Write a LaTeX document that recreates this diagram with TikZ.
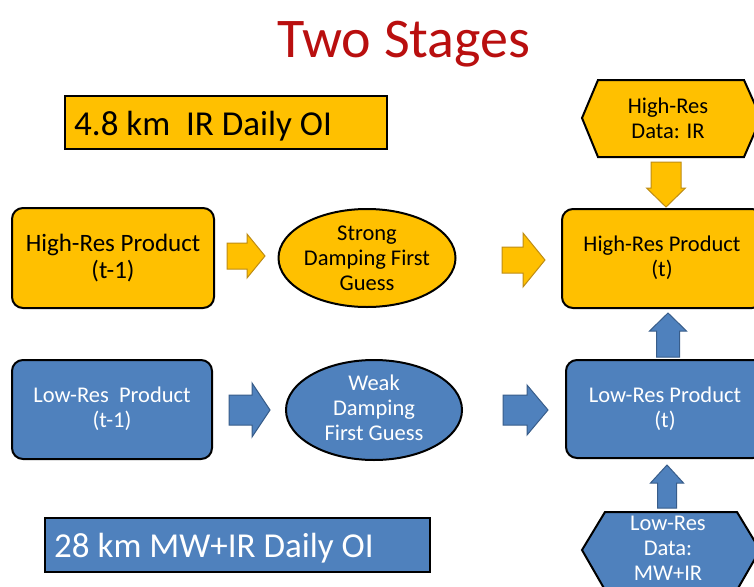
\documentclass[tikz,border=0pt]{standalone}
\usepackage{fontspec}
\setmainfont{Carlito}
\usetikzlibrary{shapes.geometric}
\definecolor{gold}{RGB}{255,192,0}
\definecolor{goldedge}{RGB}{190,140,20}
\definecolor{steel}{RGB}{79,129,189}
\definecolor{steeledge}{RGB}{56,93,138}
\definecolor{titlered}{RGB}{185,15,15}
\newcommand\blockarr[8]{%
  \draw[#1,shift={(#2,#3)},rotate=#4] (0,-#7) -- (#6,-#7) -- (#6,-#8) -- (#5,0) -- (#6,#8) -- (#6,#7) -- (0,#7) -- cycle;}
\tikzset{
  ybox/.style={draw=black,line width=2pt,fill=gold,rounded corners=11pt},
  bbox/.style={draw=black,line width=2pt,fill=steel,rounded corners=11pt},
  yell/.style={ellipse,draw=black,line width=2pt,fill=gold,inner sep=0pt},
  bell/.style={ellipse,draw=black,line width=2pt,fill=steel,inner sep=0pt},
  ytxt/.style={text=black,align=center,font=\fontsize{22.5}{25}\selectfont},
  btxt/.style={text=white,align=center,font=\fontsize{22.5}{25}\selectfont},
  yarr/.style={fill=gold,draw=goldedge,line width=1pt},
  barr/.style={fill=steel,draw=steeledge,line width=1pt},
  bigtxt/.style={font=\fontsize{35}{40}\selectfont,inner sep=0pt},
}
\begin{document}
\begin{tikzpicture}[x=1pt,y=-1pt]
\useasboundingbox (0,0) rectangle (754,586);
\fill[white] (0,0) rectangle (754,586);
\clip (0,0) rectangle (754,586);

% title
\node[text=titlered,font=\fontsize{56}{60}\selectfont,inner sep=0pt,anchor=base] (title) at (404,57) {Two Stages};

% label boxes
\draw[fill=gold,draw=black,line width=2pt] (65,96) rectangle (387,149);
\node[bigtxt,text=black,anchor=base west] (ir) at (74,135) {4.8 km\ \ IR Daily OI};
\draw[fill=steel,draw=black,line width=2pt] (45,518) rectangle (430,572);
\node[bigtxt,text=white,anchor=base west] (mw) at (54,557) {28 km MW+IR Daily OI};

% high-res row
\draw[ybox] (12,208) rectangle (214,308);
\node[ytxt,font=\fontsize{25}{27}\selectfont] (hp1) at (113,258) {High-Res Product\\(t-1)};
\node[yell,minimum width=177pt,minimum height=98pt] (sd) at (367,258) {};
\node[ytxt] (sdt) at (367,258) {Strong\\Damping First\\Guess};
\draw[ybox] (562,209) rectangle (763,308);
\node[ytxt] (hp) at (662,258) {High-Res Product\\(t)};

% high-res data hexagon
\draw[fill=gold,draw=black,line width=2pt] (582,118) -- (598,80) -- (744,80) -- (761,118) -- (744,157) -- (598,157) -- cycle;
\node[ytxt] (hd) at (668,118) {High-Res\\Data: IR};

% low-res row
\draw[bbox] (12,360) rectangle (212,459);
\node[btxt] (lp1) at (112,409) {Low-Res\ \ Product\\(t-1)};
\node[bell,minimum width=176pt,minimum height=100pt] (wd) at (374,410) {};
\node[btxt] (wdt) at (374,408) {Weak\\Damping\\First Guess};
\draw[bbox] (566,360) rectangle (764,458);
\node[btxt] (lp) at (665,409) {Low-Res Product\\(t)};

% low-res data hexagon
\draw[fill=steel,draw=black,line width=2pt] (582,550) -- (605,512) -- (737,512) -- (760,550) -- (737,590) -- (605,590) -- cycle;
\node[btxt] (ld) at (668,548) {Low-Res\\Data:\\MW+IR};

% block arrows
\blockarr{yarr}{227}{256}{0}{38}{20}{13}{22}
\blockarr{yarr}{502}{260}{0}{43}{21}{13}{27}
\blockarr{barr}{229}{410}{0}{41}{23}{15}{27}
\blockarr{barr}{503}{410}{0}{45}{24}{15}{25}
\blockarr{yarr}{666}{162}{-90}{45}{26}{15}{19.5}
\blockarr{barr}{668}{357}{90}{44}{26}{11.5}{18.5}
\blockarr{barr}{667}{508}{90}{43}{25}{9.5}{16.5}
\end{tikzpicture}
\end{document}
